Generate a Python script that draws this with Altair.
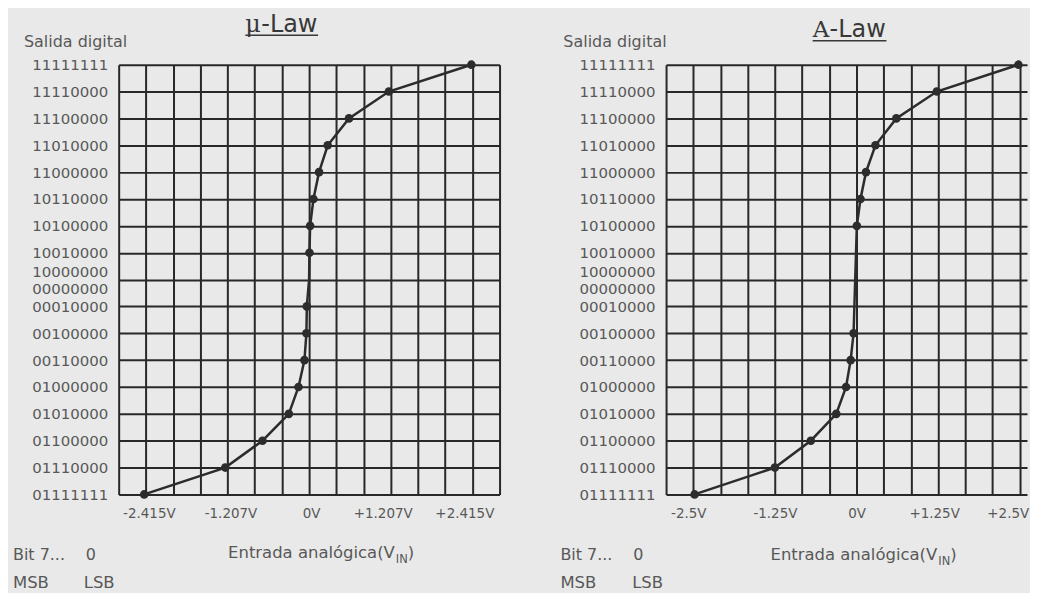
import json
import altair as alt
import pandas as pd

# ---------------- data ----------------
# output codes on the y axis, bottom to top (level 8 carries two codes)
y_codes = ["01111111", "01110000", "01100000", "01010000", "01000000",
           "00110000", "00100000", "00010000", "10000000|00000000",
           "10010000", "10100000", "10110000", "11000000", "11010000",
           "11100000", "11110000", "11111111"]

# mu-law curve: level index -> analog input (V)
mu_level = [0, 1, 2, 3, 4, 5, 6, 7, 8, 9, 10, 11, 12, 13, 14, 15, 16]
mu_vin = [-2.44, -1.24, -0.69, -0.30, -0.157, -0.069, -0.04, -0.034, 0.0,
          0.005, 0.015, 0.064, 0.147, 0.275, 0.59, 1.18, 2.40]
mu_marker = [1, 1, 1, 1, 1, 1, 1, 1, 0, 1, 1, 1, 1, 1, 1, 1, 1]

# A-law curve
a_level = [0, 1, 2, 3, 4, 5, 6, 10, 11, 12, 13, 14, 15, 16]
a_vin = [-2.48, -1.25, -0.70, -0.31, -0.16, -0.09, -0.045,
         0.005, 0.061, 0.145, 0.29, 0.61, 1.23, 2.48]
a_marker = [1] * len(a_level)

# x tick labels (grid column index -> text)
mu_tick_cols = [-6, -3, 0, 3, 6]
mu_tick_text = ["-2.415V", "-1.207V", "0V", "+1.207V", "+2.415V"]
a_tick_cols = [-6, -3, 0, 3, 6]
a_tick_text = ["-2.5V", "-1.25V", "0V", "+1.25V", "+2.5V"]

mu_step = 2.415 / 6
a_step = 2.5 / 6

# ---------------- style ----------------
SANS = "DejaVu Sans"
SERIF = "DejaVu Serif"
BG = "#e9e9e9"
GRID = "#282828"
TXT = "#585858"
TITLE = "#383838"
CURVE = "#2c2c2c"
H = 431
COLW = 382 / 14


def label(text, x, y, size=16, align="left", font=SANS, color=TXT):
    return alt.Chart(alt.Data(values=[{"t": text}])).mark_text(
        align=align, baseline="alphabetic", font=font, fontSize=size, color=color
    ).encode(x=alt.value(x), y=alt.value(y), text="t:N")


def underline(x1, x2, y):
    return alt.Chart(alt.Data(values=[{"u": 1}])).mark_rule(
        color=TITLE, strokeWidth=1.5
    ).encode(x=alt.value(x1), x2=alt.value(x2), y=alt.value(y))


def panel(level, vin, marker, step, col_min, grid_max, width, tick_cols,
          tick_text, label_offset, annots):
    df = pd.DataFrame({"level": level, "vin": vin, "marker": marker})
    ncols = width / COLW
    dom = [round(col_min * step, 6), round((col_min + ncols) * step, 6)]
    grid_vals = [round(k * step, 6) for k in range(col_min, grid_max + 1)]
    texts = [""] * (grid_max - col_min + 1)
    for c, t in zip(tick_cols, tick_text):
        texts[c - col_min] = t
    x_expr = f"{json.dumps(texts)}[round(datum.value / {step}) - ({col_min})]"
    y_expr = f"split({json.dumps(y_codes)}[round(datum.value)], '|')"

    x = alt.X("vin:Q", scale=alt.Scale(domain=dom, nice=False, zero=False),
              axis=alt.Axis(values=grid_vals, labelExpr=x_expr, title=None,
                            grid=True, gridColor=GRID, gridWidth=2, gridOpacity=1,
                            domain=False, ticks=False, tickSize=0,
                            labelPadding=12, labelFontSize=13.5, labelFont=SANS,
                            labelColor=TXT, labelOverlap=False, labelFlush=False,
                            labelOffset=label_offset))
    y = alt.Y("level:Q", scale=alt.Scale(domain=[0, 16], nice=False, zero=False),
              axis=alt.Axis(values=list(range(17)), labelExpr=y_expr, title=None,
                            grid=True, gridColor=GRID, gridWidth=2, gridOpacity=1,
                            domain=False, ticks=False, tickSize=0,
                            labelPadding=11, labelFontSize=15, labelFont=SANS,
                            labelColor=TXT, labelLineHeight=17,
                            labelOverlap=False, labelFlush=False,
                            labelOffset={"condition": {"test": "datum.value == 8",
                                                       "value": -8.5},
                                         "value": 0}))

    line = alt.Chart(df).mark_line(color=CURVE, strokeWidth=2.5).encode(
        x=x, y=y, order="level:Q")
    pts = alt.Chart(df).transform_filter("datum.marker == 1").mark_circle(
        size=75, color=CURVE, opacity=1).encode(x=x, y=y)
    return alt.layer(line, pts, *annots).properties(width=width, height=H)


left_annots = [
    label("Salida digital", -95, -18),
    label("\u03bc", 127, -33, size=24, font=SERIF, color=TITLE),
    label("-Law", 143, -33, size=24, color=TITLE),
    underline(127, 200, -29.5),
    label("Entrada analógica(V", 277, 495, size=16.5, align="right"),
    label("IN", 278, 500, size=11.5),
    label(")", 290, 495, size=16.5),
    label("Bit 7...", -106, 497),
    label("0", -33, 497),
    label("MSB", -106, 524.5, size=16.5),
    label("LSB", -35, 524.5, size=16.5),
]

right_annots = [
    label("Salida digital", -103, -18),
    label("A", 147, -28, size=23, font=SERIF, color=TITLE),
    label("-Law", 164, -28, size=24, color=TITLE),
    underline(147, 221, -24),
    label("Entrada analógica(V", 272, 497, size=16.5, align="right"),
    label("IN", 273, 502, size=11.5),
    label(")", 285, 497, size=16.5),
    label("Bit 7...", -106, 497),
    label("0", -33, 497),
    label("MSB", -106, 524.5, size=16.5),
    label("LSB", -34, 524.5, size=16.5),
]

mu_offset = {"condition": [{"test": "datum.value > 0", "value": -8},
                           {"test": "datum.value < 0", "value": 3}],
             "value": 2}
a_offset = {"condition": [{"test": "datum.value > 2", "value": -12},
                          {"test": "datum.value > 0", "value": -4},
                          {"test": "datum.value < -2", "value": -5}],
            "value": 0}

left = panel(mu_level, mu_vin, mu_marker, mu_step, -7, 7, 382,
             mu_tick_cols, mu_tick_text, mu_offset, left_annots)
right = panel(a_level, a_vin, a_marker, a_step, -7, 6, 362,
              a_tick_cols, a_tick_text, a_offset, right_annots)

chart = alt.hconcat(left, right, spacing=59).properties(
    padding={"left": 4, "top": 3, "right": 0, "bottom": 0},
    background=BG,
).configure_view(stroke="transparent")

chart.save("out.html", embed_options={"renderer": "svg", "actions": False})
